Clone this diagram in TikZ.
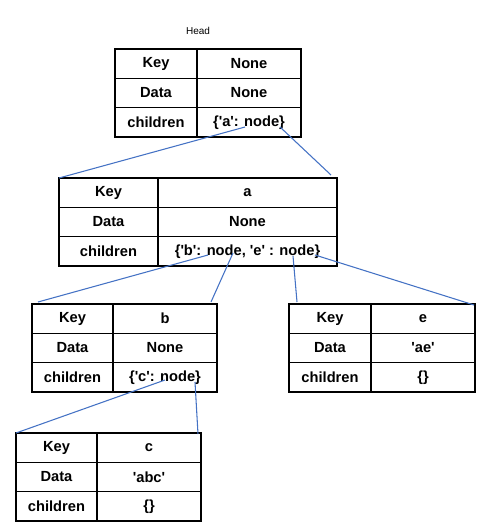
\documentclass[tikz,border=0pt]{standalone}
\usepackage{fontspec}
\setmainfont{Liberation Sans}
\usetikzlibrary{calc}
\definecolor{linkblue}{HTML}{4472C4}
\newcommand\sq{\textquotesingle}
\tikzset{
  cell/.style={draw=black, line width=1.1pt, inner sep=0pt, outer sep=0pt, anchor=north west,
    minimum height=29.3*0.75pt, font=\fontsize{11}{13}\selectfont\bfseries},
  link/.style={draw=linkblue, line width=0.8pt},
}
\newcommand\mktable[8]{%
  % #1 name, #2 x, #3 y, #4 w1, #5 w2, #6 key, #7 data, #8 children
  \node[cell, minimum width=#4*0.75pt] (#1k1) at (#2,#3) {Key};
  \node[cell, minimum width=#5*0.75pt] (#1v1) at (#1k1.north east) {#6};
  \node[cell, minimum width=#4*0.75pt] (#1k2) at (#1k1.south west) {Data};
  \node[cell, minimum width=#5*0.75pt] (#1v2) at (#1k2.north east) {#7};
  \node[cell, minimum width=#4*0.75pt] (#1k3) at (#1k2.south west) {children};
  \node[cell, minimum width=#5*0.75pt] (#1v3) at (#1k3.north east) {#8};
}
\begin{document}
\begin{tikzpicture}[x=0.75pt,y=-0.75pt]
\useasboundingbox (0,0) rectangle (493,531);
\node[font=\fontsize{7.5}{9}\selectfont] (headlabel) at (198,31) {Head};
\mktable{h}{115}{49}{82}{104}{None}{None}{\{\sq a\sq: node\}}
\mktable{a}{59}{178}{99}{179}{a}{None}{\{\sq b\sq: node, \sq e\sq\ : node\}}
\mktable{b}{32}{304}{81}{104}{b}{None}{\{\sq c\sq: node\}}
\mktable{e}{289}{304}{82}{104}{e}{\sq ae\sq}{\{\}}
\mktable{c}{16}{433}{81}{104}{c}{\sq abc\sq}{\{\}}
% connector start points (inside children values)
\coordinate (h1) at (245,127);
\coordinate (h2) at (280,127);
\coordinate (a1) at (208,255);
\coordinate (a2) at (233,253);
\coordinate (a3) at (293,256);
\coordinate (a4) at (315,255);
\coordinate (b1) at (165,380);
\coordinate (b2) at (195,382);
% connector ends
\coordinate (ha2) at (331,175);
\coordinate (ab1) at (38,302);
\coordinate (ab2) at (211,302);
\coordinate (ae1) at (297,302);
\coordinate (ae2) at (474,305);
\coordinate (bc2) at (198,434);
\draw[link] (h1) -- (ak1.north west);
\draw[link] (h2) -- (ha2);
\draw[link] (a1) -- (ab1);
\draw[link] (a2) -- (ab2);
\draw[link] (a3) -- (ae1);
\draw[link] (a4) -- (ae2);
\draw[link] (b1) -- (ck1.north west);
\draw[link] (b2) -- (bc2);
\end{tikzpicture}
\end{document}
